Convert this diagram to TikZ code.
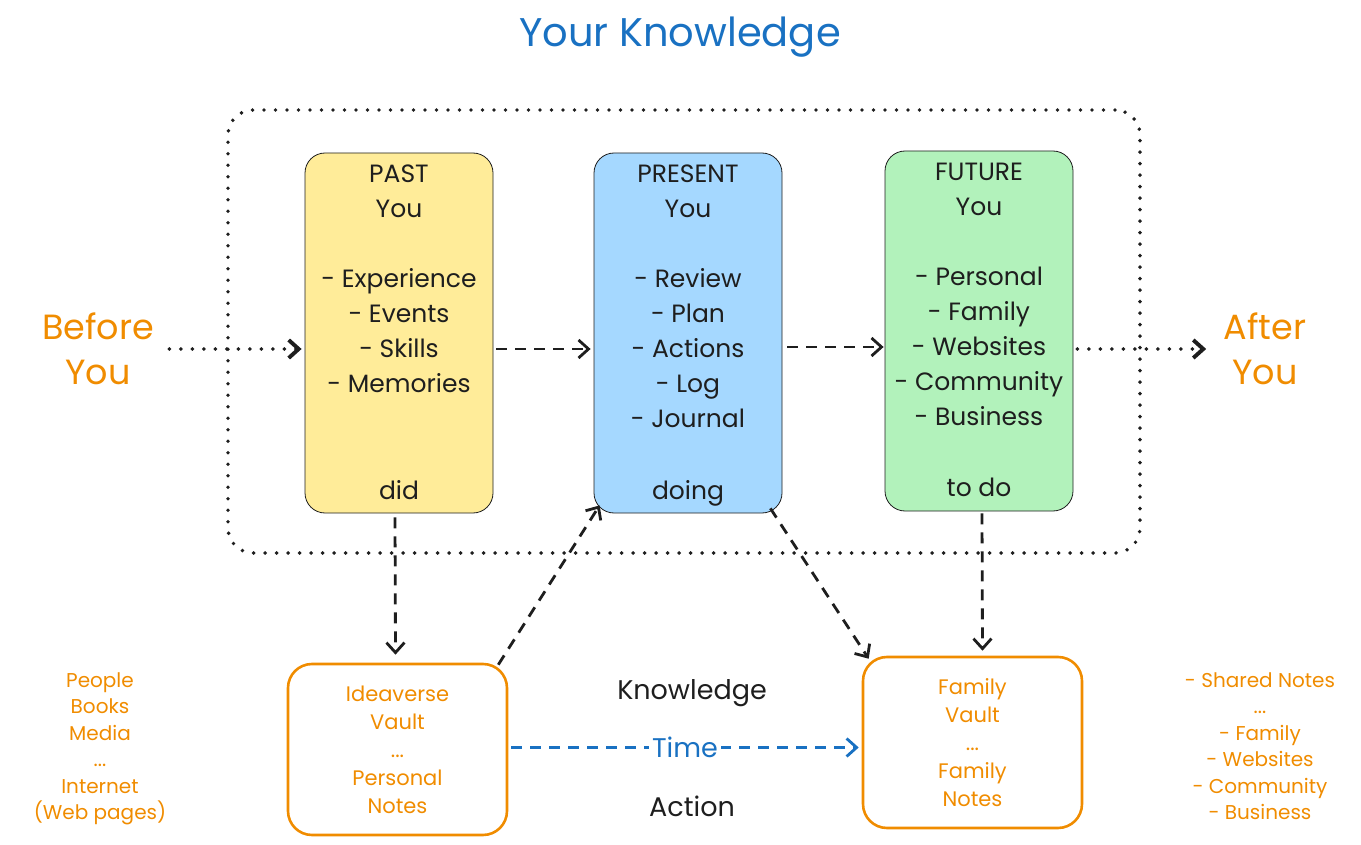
\documentclass[tikz,border=0pt]{standalone}
\usepackage{fontspec}
\setmainfont{Poppins}
\definecolor{exBlue}{HTML}{1971C2}
\definecolor{exOrange}{HTML}{F08C00}
\definecolor{exInk}{HTML}{1E1E1E}
\definecolor{exYellow}{HTML}{FFEC99}
\definecolor{exSky}{HTML}{A5D8FF}
\definecolor{exMint}{HTML}{B2F2BB}
\usetikzlibrary{arrows.meta}

\begin{document}
\begin{tikzpicture}[
  x=1pt, y=-1pt,
  stage/.style={draw=exInk, line width=0.8pt, rounded corners=20pt,
    minimum width=188pt, minimum height=360pt},
  stagetext/.style={anchor=north, inner sep=0pt, align=center, text=exInk,
    font=\fontsize{25}{35}\selectfont},
  vault/.style={draw=exOrange, line width=2.6pt, rounded corners=24pt,
    minimum width=219pt, minimum height=171pt, align=center, text=exOrange,
    font=\fontsize{21}{28}\selectfont},
  side/.style={align=center, text=exOrange, font=\fontsize{20}{26.5}\selectfont},
  era/.style={align=center, text=exOrange, font=\fontsize{35}{45}\selectfont},
  middle/.style={font=\fontsize{27}{30}\selectfont, text=exInk},
  dashed arr/.style={-{Straight Barb[length=10pt, width=18pt]}, line width=2.8pt,
    color=exInk, dash pattern=on 11pt off 8pt},
  dotted arr/.style={-{Straight Barb[length=10pt, width=18pt]}, line width=3.9pt,
    color=exInk, line cap=round, dash pattern=on 0pt off 11.5pt}
]
  \useasboundingbox (0,0) rectangle (1361,845);

  \node[font=\fontsize{40}{46}\selectfont, text=exBlue] (title) at (680,37) {Your Knowledge};

  % the dotted frame
  \node[draw=exInk, line width=3.9pt, line cap=round, dash pattern=on 0pt off 11.5pt,
    rounded corners=25pt, minimum width=912pt, minimum height=443pt] (frame) at (684,331.5) {};

  % three stages
  \node[stage, fill=exYellow] (past) at (399,333) {};
  \node[stage, fill=exSky] (present) at (688,333) {};
  \node[stage, fill=exMint] (future) at (979,331) {};

  \node[stagetext] (pasttxt) at (399,165) {PAST\\You\\[35pt]- Experience\\- Events\\- Skills\\- Memories};
  \node[stagetext] (presenttxt) at (688,165) {PRESENT\\You\\[35pt]- Review\\- Plan\\- Actions\\- Log\\- Journal};
  \node[stagetext] (futuretxt) at (979,163) {FUTURE\\You\\[35pt]- Personal\\- Family\\- Websites\\- Community\\- Business};
  \node[stagetext] (pastend) at (399,480) {did};
  \node[stagetext] (presentend) at (688,480) {doing};
  \node[stagetext] (futureend) at (979,478) {to do};

  \node[era] (before) at (98,349) {Before\\You};
  \node[era] (after) at (1265,349) {After\\You};

  % vaults
  \node[vault] (ideaverse) at (397.5,749.5) {Ideaverse\\Vault\\...\\Personal\\Notes};
  \node[vault] (family) at (972.5,742.5) {Family\\Vault\\...\\Family\\Notes};

  \node[side] (sources) at (100,749) {People\\Books\\Media\\...\\Internet\\(Web pages)};
  \node[side] (shared) at (1260,746) {- Shared Notes\\...\\- Family\\- Websites\\- Community\\- Business};

  \node[middle] (knowledge) at (692,693) {Knowledge};
  \node[middle] (action) at (692,806) {Action};

  % connectors
  \draw[dotted arr] ([xshift=12pt]before.east) -- ([xshift=-3pt,yshift=-16pt]past.west);
  \draw[dotted arr] ([xshift=4pt,yshift=-18pt]future.east) -- ([xshift=-14pt]after.west);
  \draw[dashed arr] ([xshift=3pt,yshift=-16pt]past.east) -- ([xshift=-3pt,yshift=-16pt]present.west);
  \draw[dashed arr] ([xshift=5pt,yshift=-14pt]present.east) -- ([xshift=-1pt,yshift=-16pt]future.west);
  \draw[dashed arr] ([xshift=-4pt,yshift=-4pt]past.south) -- ([xshift=-2pt,yshift=8pt]ideaverse.north);
  \draw[dashed arr] ([xshift=3pt,yshift=-2pt]future.south) -- ([xshift=10pt,yshift=5pt]family.north);
  \draw[dashed arr] ([xshift=-10pt,yshift=-2pt]ideaverse.north east) -- ([xshift=6pt,yshift=8pt]present.south west);
  \draw[dashed arr] ([xshift=-12pt,yshift=5pt]present.south east) -- ([xshift=7pt,yshift=-3pt]family.north west);
  \draw[dashed arr, color=exBlue] ([xshift=3pt,yshift=2pt]ideaverse.east) --
    node[fill=white, inner sep=3pt, text=exBlue, font=\fontsize{27}{30}\selectfont] (time) {Time}
    ([xshift=-3pt,yshift=-5pt]family.west);
\end{tikzpicture}
\end{document}
